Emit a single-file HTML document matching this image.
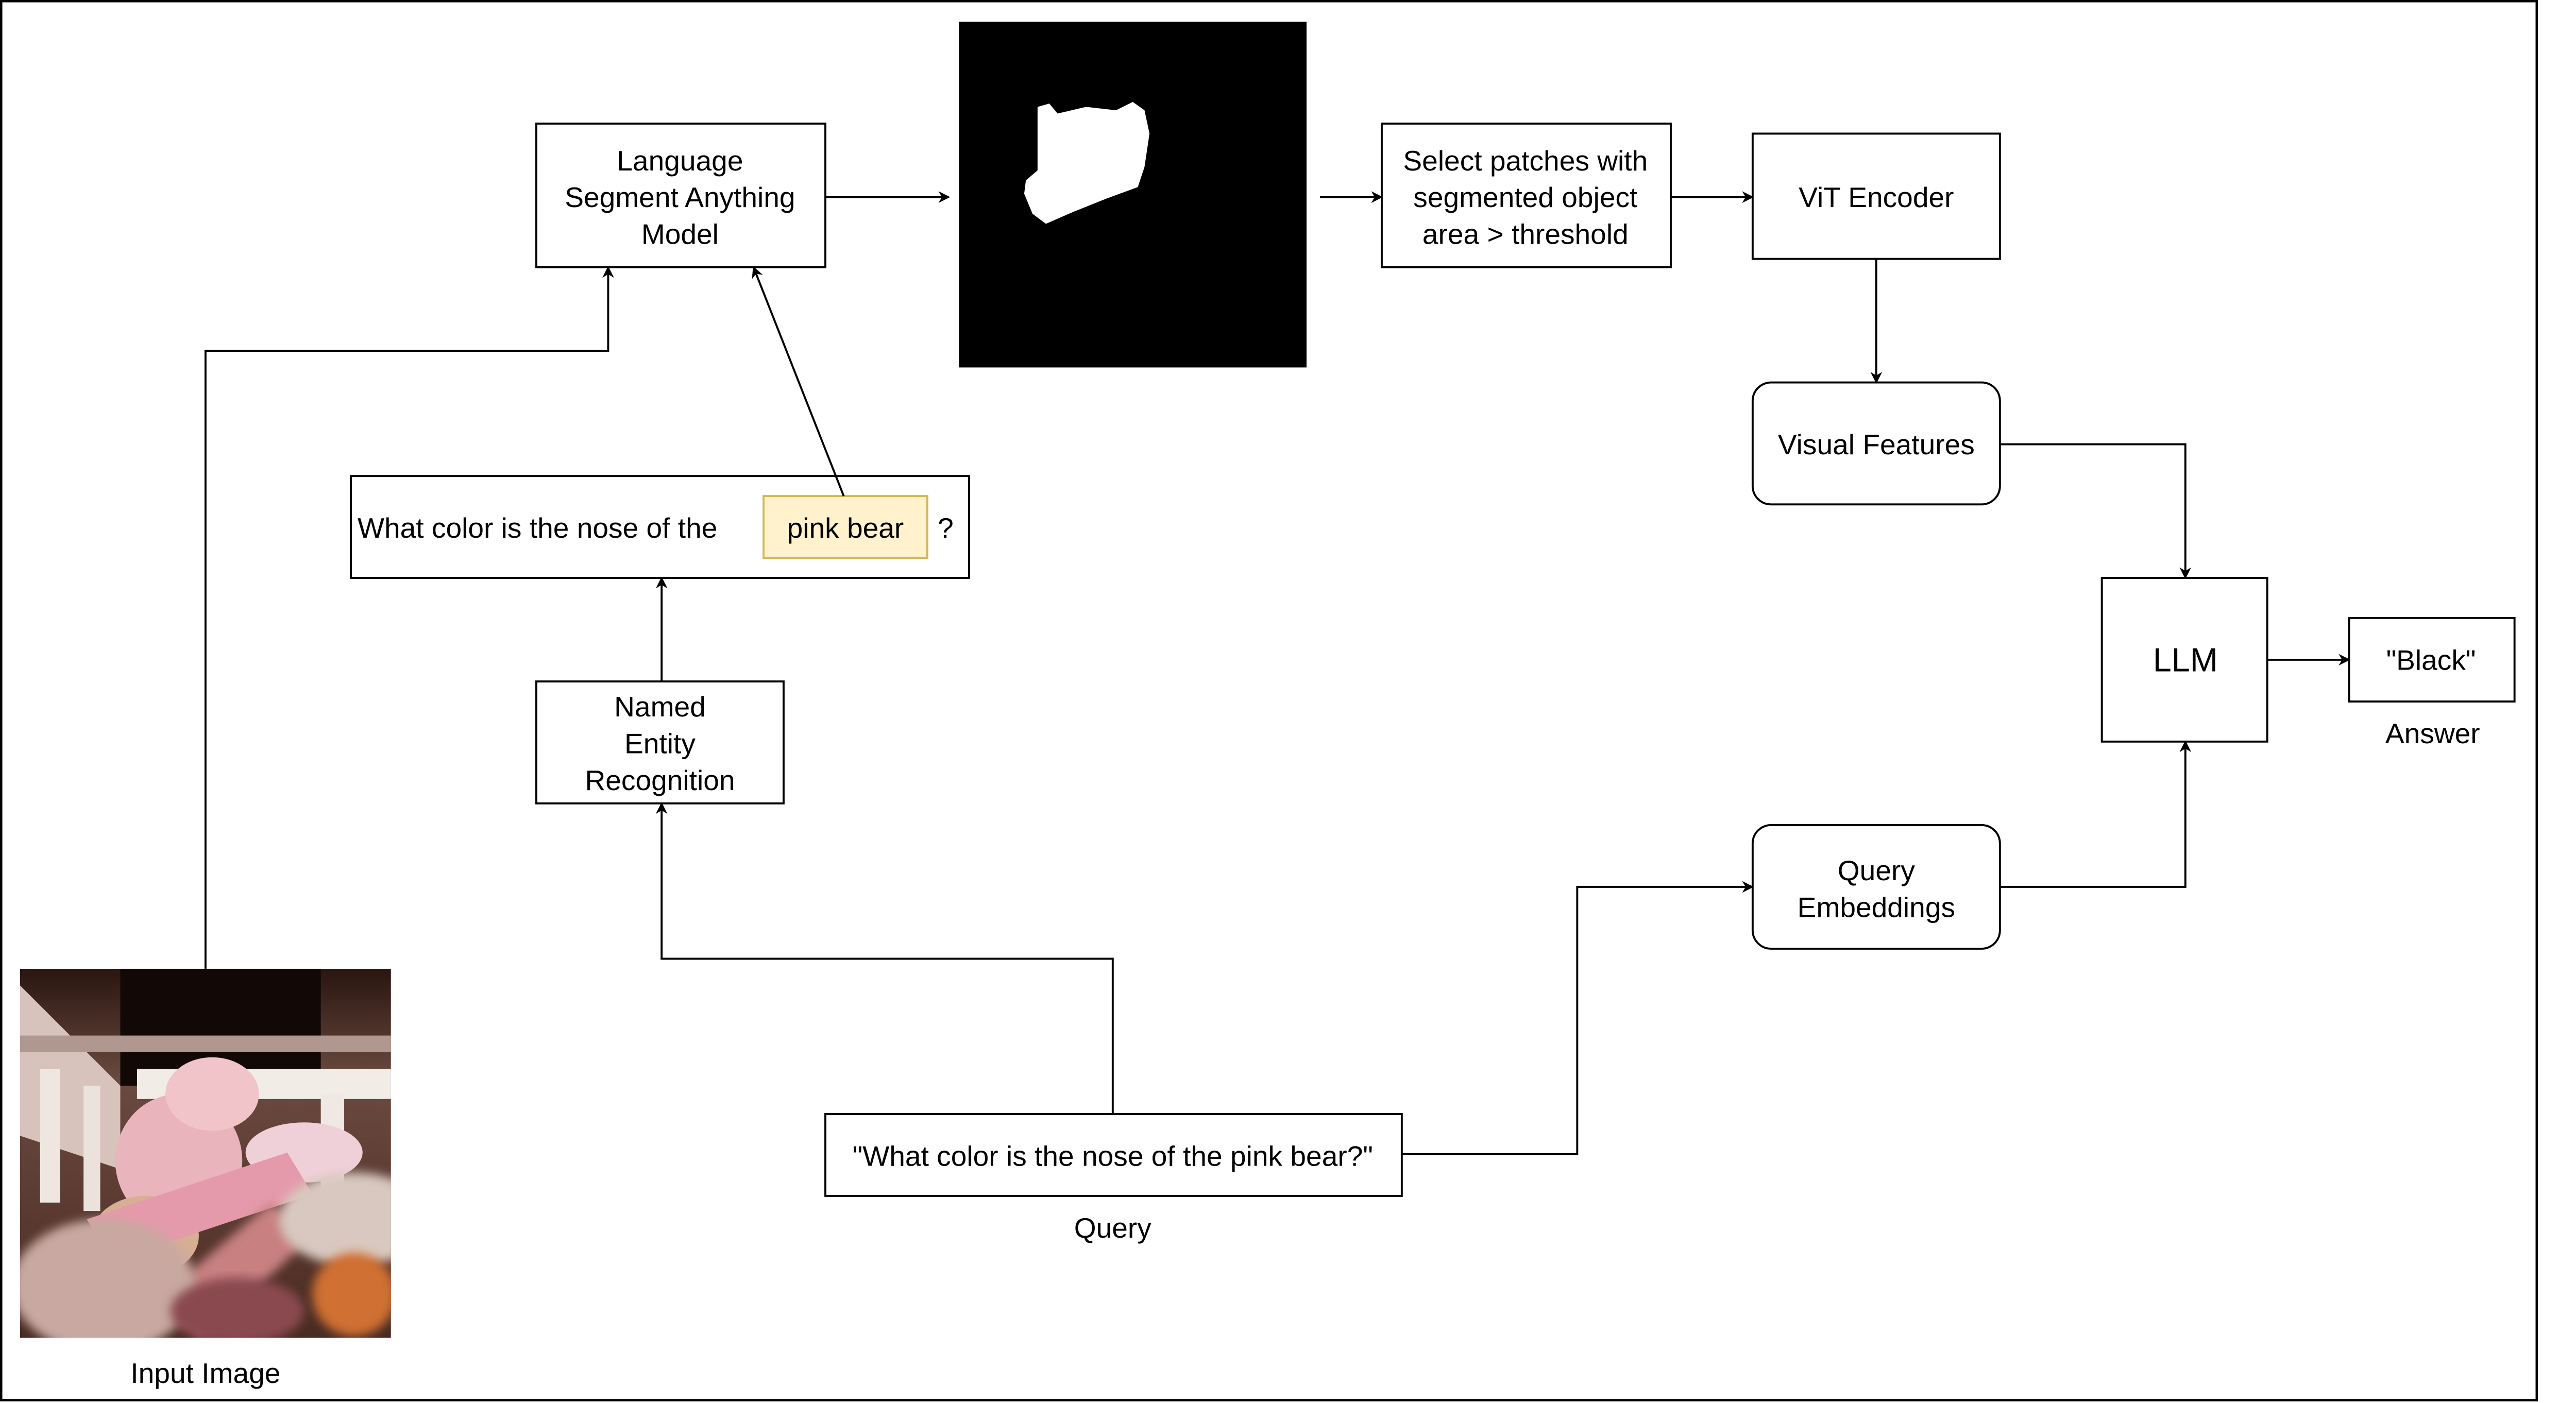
<!DOCTYPE html>
<html><head><meta charset="utf-8"><style>
html,body{margin:0;padding:0;background:#fff;overflow:hidden;}
svg{display:block;}
text{font-family:"Liberation Sans",Arial,sans-serif;fill:#000;}
</style></head><body>
<svg width="5084" height="2724" viewBox="0 0 1567.7 840" preserveAspectRatio="none" xmlns="http://www.w3.org/2000/svg">
<defs>
<marker id="a" viewBox="0 0 10 10" refX="9" refY="5" markerWidth="7" markerHeight="7" orient="auto" markerUnits="userSpaceOnUse">
<path d="M0,0 L10,5 L0,10 L3,5 Z" fill="#000"/>
</marker>
<linearGradient id="bg" x1="0" y1="0" x2="0" y2="1">
<stop offset="0" stop-color="#2a1510"/><stop offset="0.3" stop-color="#6a4a40"/><stop offset="1" stop-color="#4a2a22"/>
</linearGradient>
<filter id="bl"><feGaussianBlur stdDeviation="3"/></filter>
</defs>
<rect x="0.7" y="0.7" width="1517.6" height="837.6" fill="#fff" stroke="#000" stroke-width="1.4"/>
<g fill="none" stroke="#000" stroke-width="1.2">
<rect x="321" y="74" width="173" height="86"/>
<rect x="827" y="74" width="173" height="86"/>
<rect x="1049" y="80" width="148" height="75"/>
<rect x="1049" y="229" width="148" height="73" rx="11"/>
<rect x="1258" y="346" width="99" height="98"/>
<rect x="1406" y="370" width="99" height="50"/>
<rect x="1049" y="494" width="148" height="74" rx="11"/>
<rect x="494" y="667" width="345" height="49"/>
<rect x="321" y="408" width="148" height="73"/>
<rect x="210" y="285" width="370" height="61"/>
</g>
<rect x="457" y="297" width="98" height="37" fill="#fff2cc" stroke="#d6b656" stroke-width="1.2"/>
<rect x="574" y="13" width="208" height="207" fill="#000"/>
<path d="M621,64 L628,62 L633,68 L650,64 L668,66 L678,61 L685,66 L688,80 L685,100 L681,112 L662,119 L642,127 L626,134 L618,128 L613,116 L614,108 L621,102 Z" fill="#fff"/>
<g fill="none" stroke="#000" stroke-width="1.2" marker-end="url(#a)">
<path d="M494,118 L568,118"/>
<path d="M790,118 L827,118"/>
<path d="M1000,118 L1049,118"/>
<path d="M1123,155 L1123,229"/>
<path d="M1197,266 L1308,266 L1308,346"/>
<path d="M1357,395 L1406,395"/>
<path d="M1197,531 L1308,531 L1308,444"/>
<path d="M839,691 L944,691 L944,531 L1049,531"/>
<path d="M666,667 L666,574 L396,574 L396,481"/>
<path d="M396,408 L396,346"/>
<path d="M505,297 L451,160"/>
<path d="M123,580 L123,210 L364,210 L364,160"/>
</g>
<svg x="12" y="580" width="222" height="221" viewBox="0 0 222 221" preserveAspectRatio="none">
<rect width="222" height="221" fill="url(#bg)"/>
<rect x="60" y="0" width="120" height="70" fill="#120806"/>
<path d="M0,10 L60,70 L60,120 L0,100 Z" fill="#d8c2bc"/>
<rect x="0" y="40" width="222" height="10" fill="#b09890"/>
<rect x="70" y="60" width="152" height="18" fill="#f2ece6"/>
<rect x="12" y="60" width="12" height="80" fill="#efe6e0"/>
<rect x="38" y="70" width="10" height="75" fill="#ece2dc"/>
<rect x="180" y="75" width="14" height="60" fill="#f0e8e2"/>
<ellipse cx="95" cy="115" rx="38" ry="40" fill="#e9b4bc"/>
<ellipse cx="115" cy="75" rx="28" ry="22" fill="#f0c4c8"/>
<ellipse cx="75" cy="160" rx="32" ry="24" fill="#d8ae94"/>
<ellipse cx="170" cy="110" rx="35" ry="18" fill="#f0d0d8"/>
<path d="M40,150 L160,110 L175,135 L55,175 Z" fill="#e49aaa"/>
<path d="M80,200 L150,140 L175,160 L110,221 Z" fill="#c88080" filter="url(#bl)"/>
<ellipse cx="200" cy="150" rx="45" ry="28" fill="#d8c8c0" filter="url(#bl)"/>
<ellipse cx="50" cy="190" rx="55" ry="40" fill="#c8a8a0" filter="url(#bl)"/>
<ellipse cx="200" cy="195" rx="25" ry="25" fill="#d07030" filter="url(#bl)"/>
<ellipse cx="130" cy="205" rx="40" ry="20" fill="#8a4a50" filter="url(#bl)"/>
</svg>
<g font-size="17" text-anchor="middle">
<text x="407" y="102">Language</text>
<text x="407" y="124">Segment Anything</text>
<text x="407" y="146">Model</text>
<text x="913" y="102">Select patches with</text>
<text x="913" y="124">segmented object</text>
<text x="913" y="146">area &gt; threshold</text>
<text x="1123" y="124">ViT Encoder</text>
<text x="1123" y="272">Visual Features</text>
<text x="1308" y="402" font-size="20">LLM</text>
<text x="1455" y="401">"Black"</text>
<text x="1456" y="445">Answer</text>
<text x="1123" y="527">Query</text>
<text x="1123" y="549">Embeddings</text>
<text x="666" y="698">"What color is the nose of the pink bear?"</text>
<text x="666" y="741">Query</text>
<text x="395" y="429">Named</text>
<text x="395" y="451">Entity</text>
<text x="395" y="473">Recognition</text>
<text x="123" y="828">Input Image</text>
<text x="506" y="322">pink bear</text>
<text x="566" y="322">?</text>
</g>
<text x="214" y="322" font-size="17">What color is the nose of the</text>
</svg>
</body></html>
